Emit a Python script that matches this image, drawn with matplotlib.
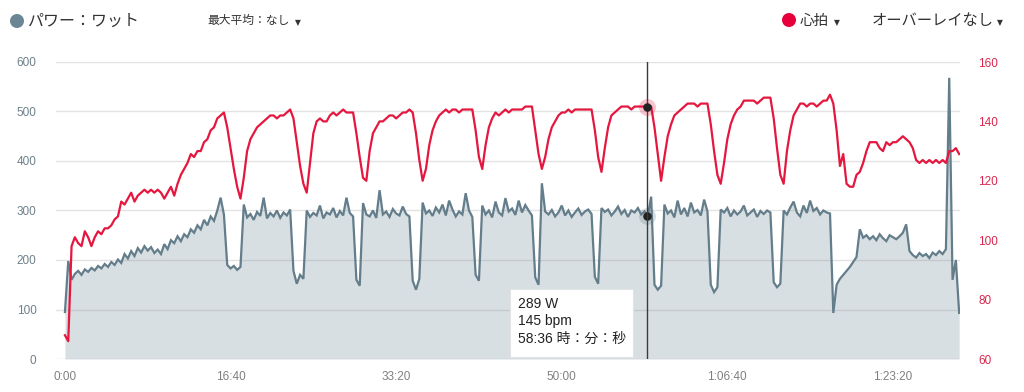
import numpy as np
import matplotlib
matplotlib.use("Agg")
import matplotlib.pyplot as plt
from matplotlib.patches import Circle, FancyBboxPatch
from matplotlib.ticker import FuncFormatter, MultipleLocator

plt.rcParams['font.family'] = ['Liberation Sans', 'Noto Sans CJK JP', 'DejaVu Sans']

# ---------------- data ----------------
STEP_S = 20  # sample interval (seconds)

power_w = [
    95, 198, 160, 172, 178, 170, 181, 176, 184, 179, 188, 183, 192, 186, 196, 190, 201, 194, 212, 203,
    218, 208, 224, 215, 228, 219, 226, 214, 221, 212, 232, 222, 240, 234, 248, 238, 252, 246, 262, 255,
    270, 262, 281, 270, 288, 279, 300, 326, 292,
    190, 183, 188, 180, 186,
    312, 286, 293, 281, 297, 289, 326, 284, 295, 288, 300, 285, 296, 290, 302,
    178, 152, 170, 162,
    300, 287, 295, 290, 310, 284, 296, 292, 305, 286, 299, 290, 326, 295, 288,
    160, 148,
    315, 292, 288, 300, 285, 341, 292, 298, 287, 303, 294, 290, 308, 293, 288,
    158, 140, 162,
    316, 294, 300, 289, 306, 296, 312, 290, 320, 302, 288, 298, 292, 335, 300, 287,
    170, 158,
    310, 292, 300, 286, 318, 296, 290, 325, 298, 304, 291, 320, 296, 311, 300, 290,
    165, 150,
    355, 298, 292, 301, 288, 296, 310, 290, 300, 287, 296, 304, 291, 298, 302, 293,
    166, 152,
    305, 297, 302, 290, 298, 308, 293, 301, 287, 300, 296, 305, 292, 298, 289, 328,
    150, 140, 148,
    312, 294, 300, 286, 320, 292, 305, 288, 316, 296, 301, 290, 322, 298,
    150, 135, 145,
    302, 296, 305, 288, 300, 292, 298, 310, 290, 296, 302, 287, 299, 293, 300, 296,
    155, 145, 152,
    300, 292, 306, 318, 296, 288, 310, 295, 320, 299, 305, 292, 300, 296, 294,
    93, 150, 162, 170, 178, 186, 196, 206,
    262, 245, 250, 242, 248, 240, 252, 244, 238, 250, 246, 242, 248, 255, 272,
    218, 210, 205, 214, 208, 212, 204, 215, 210, 218, 212, 222,
    568, 160, 200, 93,
]

heart_bpm = [
    68, 66, 98, 101, 99, 98, 103, 101, 98, 101, 103, 102, 104, 104, 105, 107, 108, 113, 112, 114,
    116, 113, 115, 116, 117, 116, 117, 116, 117, 116, 114, 116, 118, 115, 119, 122, 124, 126, 129, 128,
    130, 130, 133, 134, 137, 138, 141, 142, 143, 138, 131, 124, 118, 114, 121, 130, 134, 136, 138, 139,
    140, 141, 142, 142, 141, 142, 142, 143, 144, 141, 133, 125, 119, 116, 126, 136, 140, 141, 140, 140,
    142, 143, 142, 143, 144, 143, 143, 143, 136, 128, 121, 120, 130, 136, 138, 140, 140, 141, 142, 142,
    141, 142, 143, 143, 144, 143, 136, 127, 120, 124, 132, 137, 140, 142, 143, 144, 143, 144, 144, 143,
    144, 144, 144, 144, 137, 128, 124, 132, 138, 141, 143, 142, 143, 144, 143, 144, 144, 144, 144, 145,
    145, 145, 137, 129, 124, 128, 134, 138, 140, 142, 143, 143, 144, 143, 144, 144, 144, 144, 144, 144,
    137, 128, 123, 131, 138, 142, 143, 144, 145, 145, 145, 144, 145, 145, 145, 145, 145, 145, 138, 129,
    120, 128, 135, 139, 142, 143, 144, 145, 146, 146, 146, 145, 146, 146, 146, 139, 130, 122, 119, 126,
    134, 139, 142, 144, 145, 147, 147, 147, 147, 146, 147, 148, 148, 148, 141, 131, 122, 119, 130, 137,
    142, 144, 146, 146, 145, 146, 146, 145, 146, 147, 147, 149, 146, 137, 125, 129, 119, 118, 118, 122,
    123, 126, 130, 133, 133, 133, 131, 130, 133, 132, 133, 133, 134, 135, 134, 133, 131, 127, 126, 127,
    126, 127, 126, 127, 126, 127, 126, 130, 130, 131, 129,
]

x_ticks_s = [0, 1000, 2000, 3000, 4000, 5000]
power_ticks = [0, 100, 200, 300, 400, 500, 600]
hr_ticks = [60, 80, 100, 120, 140, 160]

cursor_time_s = 58 * 60 + 36
cursor_power = 289
cursor_hr = 145

title_power = "パワー：ワット"
title_avg = "最大平均：なし"
title_hr = "心拍"
title_overlay = "オーバーレイなし"
tooltip_lines = ["289 W", "145 bpm", "58:36 時：分：秒"]

# ---------------- colors ----------------
C_POWER = "#637d8b"
C_FILL = "#5f7a89"
C_HR = "#e5173f"
C_GRID = "#e3e3e3"
C_LEFT_TXT = "#6e808b"
C_RIGHT_TXT = "#d8284e"
C_BOTTOM_TXT = "#808080"
C_TEXT = "#333333"

t_power = np.arange(len(power_w)) * STEP_S
t_hr = np.arange(len(heart_bpm)) * STEP_S

W, H = 1024, 392
fig = plt.figure(figsize=(W / 100, H / 100), dpi=100)

left_px, right_px, top_px, bottom_px = 56, 960, 62, 359
ax = fig.add_axes([left_px / W, (H - bottom_px) / H,
                   (right_px - left_px) / W, (bottom_px - top_px) / H])
ax2 = ax.twinx()

# power
ax.fill_between(t_power, 0, power_w, color=C_FILL, alpha=0.24, lw=0, zorder=2)
ax.plot(t_power, power_w, color=C_POWER, lw=1.6, zorder=3, solid_joinstyle='miter')
ax.set_ylim(0, 600)
ax.set_xlim(-54, 5405)
ax.set_yticks(power_ticks)
ax.grid(axis='y', color=C_GRID, lw=1, zorder=1)
ax.set_axisbelow(True)

def fmt_time(v, pos=None):
    v = int(round(v))
    h, rem = divmod(v, 3600)
    m, s = divmod(rem, 60)
    if h:
        return f"{h}:{m:02d}:{s:02d}"
    return f"{m}:{s:02d}"

ax.set_xticks(x_ticks_s)
ax.xaxis.set_major_formatter(FuncFormatter(fmt_time))

# heart rate
ax2.plot(t_hr, heart_bpm, color=C_HR, lw=1.6, zorder=4)
ax2.set_ylim(60, 160)
ax2.set_yticks(hr_ticks)

for a in (ax, ax2):
    for sp in a.spines.values():
        sp.set_visible(False)

ax.tick_params(axis='y', length=0, pad=14, labelsize=8.5, labelcolor=C_LEFT_TXT)
ax.tick_params(axis='x', length=0, pad=9, labelsize=8.5, labelcolor=C_BOTTOM_TXT)
ax2.tick_params(axis='y', length=0, pad=13, labelsize=8.5, labelcolor=C_RIGHT_TXT)

# cursor
ax2.axvline(cursor_time_s, color="#3a3a3a", lw=1.0, zorder=6)
ax2.scatter([cursor_time_s], [cursor_hr], s=150, color=C_HR, alpha=0.25, lw=0, zorder=7)
ax2.scatter([cursor_time_s], [cursor_hr], s=38, color="#222222", lw=0, zorder=8)
# power dot (in HR axes coordinates via transform)
ax.scatter([cursor_time_s], [cursor_power], s=150, color=C_POWER, alpha=0.25, lw=0, zorder=7)
ax.scatter([cursor_time_s], [cursor_power], s=38, color="#222222", lw=0, zorder=8)

# tooltip box (figure pixel coords)
bx0, bx1, by0, by1 = 510, 633, 289, 357
box = FancyBboxPatch((bx0 / W, (H - by1) / H), (bx1 - bx0) / W, (by1 - by0) / H,
                     boxstyle="square,pad=0", transform=fig.transFigure,
                     facecolor="white", edgecolor="#e4e4e4", lw=0.8, zorder=20)
fig.patches.append(box)
for i, line in enumerate(tooltip_lines):
    fig.text(518 / W, (H - (304 + 17.5 * i)) / H, line, fontsize=10, color="#222222",
             va='center', ha='left', zorder=21)

# header
def circ(xp, yp, r, color):
    c = Circle((xp / 100, (H - yp) / 100), r / 100, transform=fig.dpi_scale_trans,
               color=color, lw=0)
    fig.patches.append(c)

circ(17, 21, 7, "#6a8594")
fig.text(28 / W, (H - 21) / H, title_power, fontsize=11.5, color=C_TEXT, va='center', ha='left')
fig.text(207 / W, (H - 21) / H, title_avg, fontsize=8.5, color=C_TEXT, va='center', ha='left')
fig.text(295 / W, (H - 23) / H, "▼", fontsize=5.5, color=C_TEXT, va='center', ha='left',
         family=['DejaVu Sans'])

circ(789, 20, 7, "#e8003d")
fig.text(800 / W, (H - 21) / H, title_hr, fontsize=10.5, color=C_TEXT, va='center', ha='left')
fig.text(834 / W, (H - 23) / H, "▼", fontsize=5.5, color=C_TEXT, va='center', ha='left',
         family=['DejaVu Sans'])
fig.text(872 / W, (H - 21) / H, title_overlay, fontsize=11, color=C_TEXT, va='center', ha='left')
fig.text(997 / W, (H - 23) / H, "▼", fontsize=5.5, color=C_TEXT, va='center', ha='left',
         family=['DejaVu Sans'])

fig.savefig("out.png", dpi=100)
